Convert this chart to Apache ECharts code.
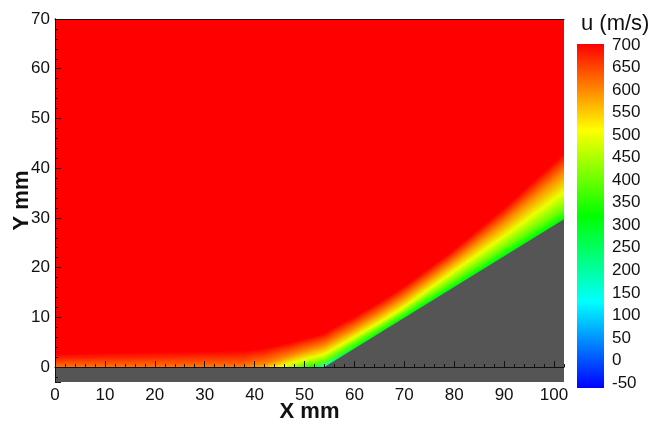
<!DOCTYPE html>
<html>
<head>
<meta charset="utf-8">
<script src="https://cdn.jsdelivr.net/npm/echarts@6/dist/echarts.min.js"></script>
<style>
  html, body { margin: 0; padding: 0; background: #fff; }
  #chart { width: 655px; height: 424px; }
</style>
</head>
<body>
<div id="chart"></div>
<script>
// wall geometry (mm): flat plate, then the ramp
const wallX = [0, 54, 102]
const wallY = [0, 0, 30]

const stationX = [0, 20, 38, 42, 45, 48, 51, 54, 56, 60, 65, 70, 79, 90, 102]
// u at the wall (m/s)
const uWall = [615, 615, 610, 570, 510, 440, 350, 170, 240, 310, 320, 320, 320, 320, 330]
// height above the wall (mm) where u reaches 400 / 500 / 600 / 700 m/s
const h400 = [0, 0, 0, 0, 0, 0, 0.6, 1.2, 1.2, 1.1, 1.0, 1.0, 1.2, 1.4, 1.6]
const h500 = [0, 0, 0, 0, 0.2, 1.0, 1.8, 2.6, 2.5, 2.3, 2.1, 2.1, 3.0, 3.8, 5.2]
const h600 = [0, 0, 0, 0.6, 1.6, 2.6, 3.5, 4.4, 4.3, 4.0, 3.9, 4.0, 5.0, 6.6, 9.2]
const h700 = [2.6, 3.0, 3.3, 3.8, 4.5, 5.2, 6.0, 6.8, 6.8, 6.4, 6.2, 6.3, 7.3, 9.5, 13.0]
const levels = [400, 500, 600, 700]

// colour bar
const cbValues = [-50, 137.5, 325, 512.5, 700]
const cbColors = ['#0000ff', '#00ffff', '#00ff00', '#ffff00', '#ff0000']

function hexRgb(h) {
  return [parseInt(h.slice(1, 3), 16), parseInt(h.slice(3, 5), 16), parseInt(h.slice(5, 7), 16)]
}
function colorAt(u) {
  if (u <= cbValues[0]) return cbColors[0]
  for (let i = 1; i < cbValues.length; i++) {
    if (u <= cbValues[i]) {
      const t = (u - cbValues[i - 1]) / (cbValues[i] - cbValues[i - 1])
      const a = hexRgb(cbColors[i - 1]), b = hexRgb(cbColors[i])
      const c = a.map((v, k) => Math.round(v + (b[k] - v) * t))
      return 'rgb(' + c.join(',') + ')'
    }
  }
  return cbColors[cbColors.length - 1]
}
function wallAt(x) {
  for (let i = 1; i < wallX.length; i++) {
    if (x <= wallX[i]) {
      const t = (x - wallX[i - 1]) / (wallX[i] - wallX[i - 1])
      return wallY[i - 1] + (wallY[i] - wallY[i - 1]) * t
    }
  }
  return wallY[wallY.length - 1]
}

const font = 'Liberation Sans'
const ink = '#111'

let chart = echarts.init(document.getElementById('chart'))

chart.setOption({
  backgroundColor: '#fff',
  animation: false,
  textStyle: { fontFamily: font },
  title: {
    text: 'u (m/s)',
    left: 576,
    top: 8,
    textStyle: { fontSize: 22, fontWeight: 'normal', color: ink, fontFamily: font }
  },
  grid: [
    { left: 55, top: 19, width: 509, height: 363, outerBoundsMode: 'none', containLabel: false },
    { left: 577, top: 45, width: 27, height: 338, outerBoundsMode: 'none', containLabel: false }
  ],
  xAxis: [
    {
      gridIndex: 0, type: 'value', min: 0, max: 102, interval: 10, z: 10,
      name: 'X mm', nameLocation: 'middle', nameGap: 19, nameMoveOverlap: false,
      nameTextStyle: { fontSize: 22, fontWeight: 'bold', color: ink, verticalAlign: 'top' },
      axisLine: { show: true, lineStyle: { color: ink, width: 1 } },
      axisTick: { inside: true, length: 6, lineStyle: { color: ink } },
      axisLabel: {
        fontSize: 17, color: ink, margin: 5, showMaxLabel: false,
        formatter: v => (v % 10 === 0 ? String(v) : '')
      },
      splitLine: { show: false }
    },
    {
      gridIndex: 0, type: 'value', min: 0, max: 102, interval: 2, z: 10, position: 'bottom',
      axisLine: { show: false },
      axisTick: { inside: true, length: 3, lineStyle: { color: ink } },
      axisLabel: { show: false },
      splitLine: { show: false }
    },
    {
      gridIndex: 0, type: 'value', min: 0, max: 102, z: 10, position: 'top',
      axisLine: { show: true, lineStyle: { color: ink, width: 1 } },
      axisTick: { show: false }, axisLabel: { show: false }, splitLine: { show: false }
    },
    { gridIndex: 1, type: 'value', min: 0, max: 1, show: false }
  ],
  yAxis: [
    {
      gridIndex: 0, type: 'value', min: -3, max: 70, z: 10,
      name: 'Y mm', nameLocation: 'middle', nameGap: 22, nameRotate: 90, nameMoveOverlap: false,
      nameTextStyle: { fontSize: 22, fontWeight: 'bold', color: ink },
      axisLine: { show: true, lineStyle: { color: ink, width: 1 } },
      axisTick: { inside: true, length: 6, lineStyle: { color: ink } },
      minorTick: { show: true, splitNumber: 5, length: 3, lineStyle: { color: ink } },
      axisLabel: {
        fontSize: 17, color: ink, margin: 5, showMinLabel: false,
        formatter: v => (v % 10 === 0 ? String(v) : '')
      },
      splitLine: { show: false },
      minorSplitLine: { show: false }
    },
    {
      gridIndex: 0, type: 'value', min: -3, max: 70, z: 10, position: 'right',
      axisLine: { show: true, lineStyle: { color: ink, width: 1 } },
      axisTick: { show: false }, axisLabel: { show: false }, splitLine: { show: false }
    },
    {
      gridIndex: 1, type: 'value', min: -50, max: 700, interval: 50, position: 'right',
      axisLine: { show: false }, axisTick: { show: false },
      axisLabel: { fontSize: 17, color: ink, margin: 8 },
      splitLine: { show: false }
    }
  ],
  series: [
    {
      // velocity field, one strip per pair of stations
      type: 'custom',
      xAxisIndex: 0, yAxisIndex: 0,
      silent: true,
      clip: true,
      data: stationX.slice(0, -1).map((x, i) => [x, stationX[i + 1]]),
      renderItem: (params, api) => {
        const i = params.dataIndex
        const last = i === stationX.length - 2
        const x0 = stationX[i], x1 = stationX[i + 1]
        const n = Math.max(1, Math.ceil((x1 - x0) / 0.4))
        const children = []
        for (let k = 0; k < n; k++) {
          const a = x0 + (x1 - x0) * k / n
          const b = x0 + (x1 - x0) * (k + 1) / n
          const t = (k + 0.5) / n
          const mix = arr => arr[i] + (arr[i + 1] - arr[i]) * t
          const uw = mix(uWall)
          const hs = [h400, h500, h600, h700].map(mix)
          const xc = (a + b) / 2
          const yw = wallAt(xc)
          const pTop = api.coord([a, 70])
          const pBot = api.coord([b, -3])
          const pw = api.coord([xc, yw])
          const pt = api.coord([xc, yw + hs[3]])
          const stops = [{ offset: 0, color: colorAt(uw) }]
          levels.forEach((lv, j) => {
            if (lv > uw && hs[j] > 0) stops.push({ offset: Math.min(1, hs[j] / hs[3]), color: colorAt(lv) })
          })
          const extra = (last && k === n - 1) ? 0 : 1
          children.push({
            type: 'rect',
            shape: { x: pTop[0], y: pTop[1], width: pBot[0] - pTop[0] + extra, height: pBot[1] - pTop[1] },
            style: { fill: new echarts.graphic.LinearGradient(0, pw[1], 0, pt[1], stops, true) }
          })
        }
        return { type: 'group', children }
      }
    },
    {
      // solid body: plate and ramp
      type: 'custom',
      xAxisIndex: 0, yAxisIndex: 0,
      silent: true,
      clip: true,
      data: [0],
      renderItem: (params, api) => {
        const pts = [api.coord([wallX[0], -3])]
        wallX.forEach((x, i) => pts.push(api.coord([x, wallY[i]])))
        pts.push(api.coord([wallX[wallX.length - 1], -3]))
        pts[pts.length - 1][0] += 2
        pts[pts.length - 2][0] += 2
        return { type: 'polygon', shape: { points: pts }, style: { fill: '#555555' } }
      }
    },
    {
      // colour bar
      type: 'custom',
      xAxisIndex: 3, yAxisIndex: 2,
      silent: true,
      clip: false,
      data: [0],
      renderItem: (params, api) => {
        const top = api.coord([0, 700])
        const bot = api.coord([1, -50])
        const stops = cbValues.map((v, i) => ({ offset: (v - cbValues[0]) / (700 - cbValues[0]), color: cbColors[i] }))
        return {
          type: 'rect',
          shape: { x: top[0], y: top[1] - 1, width: bot[0] - top[0], height: bot[1] - top[1] + 6 },
          style: { fill: new echarts.graphic.LinearGradient(0, 1, 0, 0, stops) }
        }
      }
    }
  ]
})
</script>
</body>
</html>
